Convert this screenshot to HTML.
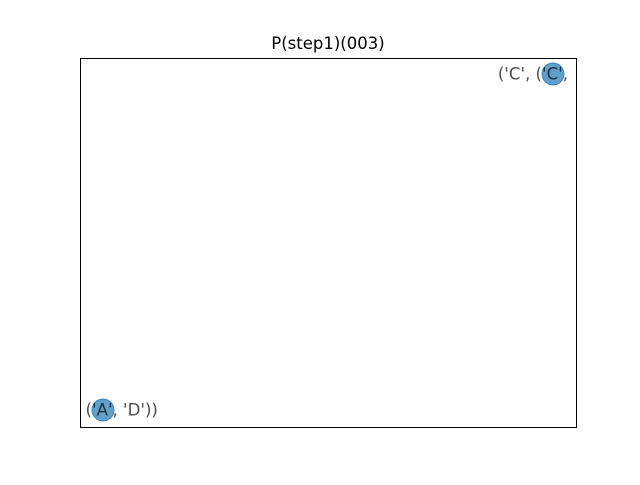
<!DOCTYPE html>
<html><head><meta charset="utf-8"><style>html,body{margin:0;padding:0;background:#fff}</style></head>
<body>
<svg width="640" height="480" xmlns="http://www.w3.org/2000/svg">
<defs><clipPath id="ax"><rect x="80" y="58" width="496" height="369"/></clipPath>
<clipPath id="tx"><rect x="80" y="58" width="493" height="369"/></clipPath></defs>
<rect width="640" height="480" fill="#fff"/>
<text x="328" y="49" font-family="DejaVu Sans, Liberation Sans, sans-serif" font-size="16.5" text-anchor="middle" fill="#000">P(step1)(003)</text>
<g clip-path="url(#ax)">
<circle cx="553" cy="74" r="11" fill="#1f77b4" fill-opacity="0.7" stroke="#1f77b4" stroke-opacity="0.8" stroke-width="1"/>
<circle cx="103" cy="410" r="11" fill="#1f77b4" fill-opacity="0.7" stroke="#1f77b4" stroke-opacity="0.8" stroke-width="1"/>
</g>
<g clip-path="url(#tx)">
<text x="553" y="79.5" font-family="DejaVu Sans, Liberation Sans, sans-serif" font-size="16.6" text-anchor="middle" fill="#000" fill-opacity="0.7">('C', ('C', 'D'))</text>
<text x="103" y="415.5" font-family="DejaVu Sans, Liberation Sans, sans-serif" font-size="16.6" text-anchor="middle" fill="#000" fill-opacity="0.7">('A', ('A', 'D'))</text>
</g>
<rect x="80.5" y="58.5" width="496" height="369" fill="none" stroke="#000" stroke-width="1"/>
</svg>
</body></html>
